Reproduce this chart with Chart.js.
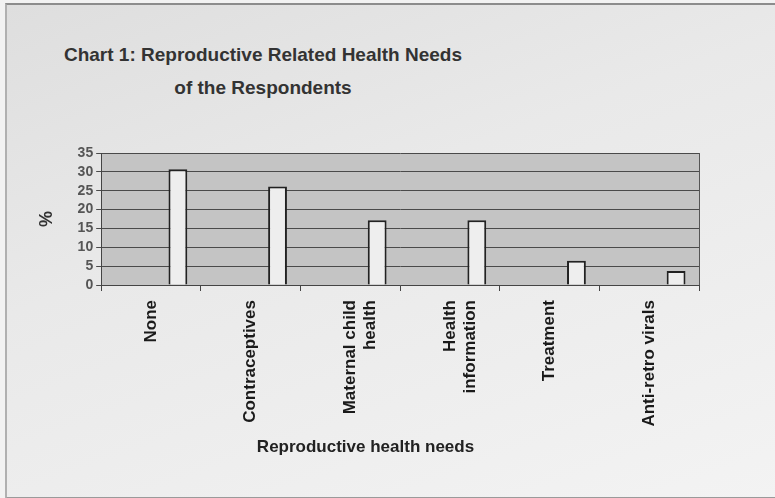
<!DOCTYPE html>
<html>
<head>
<meta charset="utf-8">
<script src="https://cdn.jsdelivr.net/npm/chart.js@4.4.0/dist/chart.umd.min.js"></script>
<style>
  html, body { margin: 0; padding: 0; }
  body { width: 775px; height: 498px; overflow: hidden; position: relative; background: #f2f2f2; }
  #frame {
    position: absolute; left: 5px; top: 3px; width: 775px; height: 492px;
    border-top: 2px solid #8c8c8c; border-left: 2px solid #b0b0b0; border-bottom: 2px solid #9a9a9a;
    background: linear-gradient(160deg, #dedede 0%, #e9e9e9 40%, #f3f3f3 100%);
  }
  #title {
    position: absolute; left: 0; top: 38px; width: 526px; text-align: center;
    font: bold 19px "Liberation Sans", Arial, sans-serif; line-height: 33px; color: #333;
  }
  canvas { position: absolute; left: 0; top: 0; }
</style>
</head>
<body>
<div id="frame"></div>
<div id="title">Chart 1: Reproductive Related Health Needs<br>of the Respondents</div>
<canvas id="needsChart" width="775" height="498"></canvas>
<script>
// values (percent of respondents)
const categories = ['None', 'Contraceptives', ['Maternal child', 'health'], ['Health', 'information'], 'Treatment', 'Anti-retro virals'];
const blankSeries = [null, null, null, null, null, null]; // empty first series, pushes bars right like the original
const percentValues = [30.7, 26.1, 17.2, 17.2, 6.4, 3.7];
const yTicks = [0, 5, 10, 15, 20, 25, 30, 35];

// gray plot background + right border of the plot
const plotBg = {
  id: 'plotBg',
  beforeDraw(chart) {
    const { ctx, chartArea: a } = chart;
    ctx.save();
    ctx.fillStyle = '#c4c4c4';
    ctx.fillRect(a.left, a.top, a.right - a.left, a.bottom - a.top);
    ctx.restore();
  },
  afterDatasetsDraw(chart) {
    const { ctx, chartArea: a } = chart;
    ctx.save();
    ctx.strokeStyle = '#555';
    ctx.lineWidth = 1;
    ctx.beginPath();
    ctx.moveTo(a.right + 0.5, a.top);
    ctx.lineTo(a.right + 0.5, a.bottom);
    ctx.stroke();
    ctx.restore();
  }
};

const ctx = document.getElementById('needsChart').getContext('2d');
new Chart(ctx, {
  type: 'bar',
  data: {
    labels: categories,
    datasets: [
      { label: '', data: blankSeries },
      {
        label: 'Reproductive health needs',
        data: percentValues,
        backgroundColor: '#eeeeee',
        borderColor: '#222',
        borderWidth: 2
      }
    ]
  },
  options: {
    responsive: false,
    animation: false,
    categoryPercentage: 1.08,
    barPercentage: 0.35,
    layout: { padding: { top: 153, right: 76, bottom: 40, left: 32 } },
    plugins: {
      legend: { display: false },
      tooltip: { enabled: false },
      // x axis caption drawn as a bottom title box so the long rotated labels get their full room
      title: {
        display: true, position: 'bottom', text: 'Reproductive health needs', color: '#222',
        font: { family: 'Liberation Sans', size: 17, weight: 'bold' }, padding: { top: 2, bottom: 0 }
      }
    },
    scales: {
      x: {
        grid: { drawOnChartArea: false, offset: true, color: '#444', tickLength: 6 },
        border: { color: '#444' },
        ticks: {
          autoSkip: false, minRotation: 90, maxRotation: 90, padding: 9,
          color: '#1a1a1a', font: { family: 'Liberation Sans', size: 17, weight: 'bold' }
        }
      },
      y: {
        min: 0, max: 35,
        afterBuildTicks(scale) { scale.ticks = yTicks.map(v => ({ value: v })); },
        grid: { color: '#4a4a4a', tickLength: 5 },
        border: { color: '#444' },
        ticks: {
          autoSkip: false, color: '#555', padding: 3,
          font: { family: 'Liberation Sans', size: 14, weight: 'bold' }
        },
        title: {
          display: true, text: '%', color: '#333',
          font: { family: 'Liberation Sans', size: 18, weight: 'bold' }, padding: { bottom: 17 }
        }
      }
    }
  },
  plugins: [plotBg]
});
</script>
</body>
</html>
